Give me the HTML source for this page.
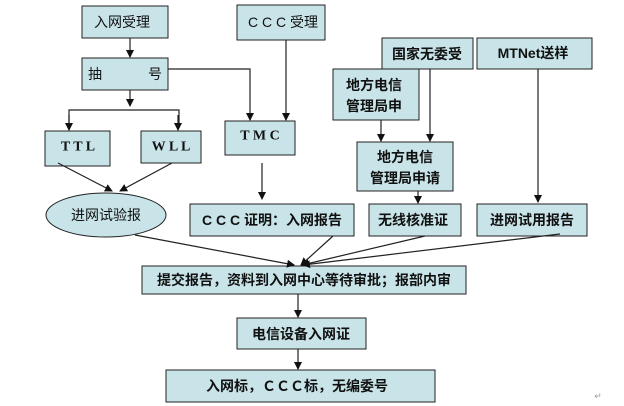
<!DOCTYPE html>
<html><head><meta charset="utf-8"><style>
body{margin:0;background:#fff}
svg{display:block}
text{font-family:"Liberation Sans","Noto Sans CJK SC",sans-serif;font-size:14px;fill:#111;text-anchor:middle;dominant-baseline:central}
.b{font-weight:bold}
.r{fill:#c8e4e8;stroke:#222;stroke-width:1}
.l{stroke:#222;stroke-width:1.2;fill:none}
</style></head><body>
<svg width="624" height="406" viewBox="0 0 624 406">
<defs><marker id="a" markerWidth="8" markerHeight="8" refX="7" refY="4" orient="auto" markerUnits="userSpaceOnUse"><path d="M0,0 L8,4 L0,8 z" fill="#111"/></marker></defs>
<rect class="r" x="82" y="6" width="86" height="32"/><text x="122" y="22">入网受理</text>
<rect class="r" x="82" y="58" width="86" height="32"/><text x="95" y="74">抽</text><text x="155" y="74">号</text>
<rect class="r" x="45" y="131" width="65" height="35"/><text x="78" y="147" class="b" style="font-family:'Liberation Serif',serif" >T T L</text>
<rect class="r" x="141" y="131" width="60" height="32"/><text x="171" y="147" class="b" style="font-family:'Liberation Serif',serif">W L L</text>
<rect class="r" x="237" y="5" width="88" height="35"/><text x="283" y="22">C C C 受理</text>
<rect class="r" x="225" y="121" width="70" height="34"/><text x="260" y="136" class="b" style="font-family:'Liberation Serif',serif">T M C</text>
<ellipse class="r" cx="106" cy="215" rx="60" ry="22"/><text x="106" y="215">进网试验报</text>
<rect class="r" x="190" y="204" width="164" height="32"/><text x="272" y="220" class="b">C C C 证明：入网报告</text>
<rect class="r" x="382" y="38" width="91" height="31"/><text x="427" y="54" class="b">国家无委受</text>
<rect class="r" x="477" y="38" width="115" height="31"/><text x="533" y="53" class="b">MTNet送样</text>
<rect class="r" x="333" y="69" width="86" height="51"/><text x="374" y="85" class="b">地方电信</text><text x="374" y="106" class="b">管理局申</text>
<rect class="r" x="357" y="142" width="96" height="49"/><text x="405" y="157" class="b">地方电信</text><text x="405" y="178" class="b">管理局申请</text>
<rect class="r" x="369" y="204" width="92" height="32"/><text x="413" y="220" class="b">无线核准证</text>
<rect class="r" x="477" y="204" width="110" height="32"/><text x="532" y="220" class="b">进网试用报告</text>
<rect class="r" x="142" y="266" width="324" height="28"/><text x="304" y="280" class="b">提交报告，资料到入网中心等待审批；报部内审</text>
<rect class="r" x="237" y="318" width="129" height="31"/><text x="301" y="334" class="b">电信设备入网证</text>
<rect class="r" x="166" y="370" width="269" height="32"/><text x="297" y="386" class="b">入网标，ＣＣＣ标，无编委号</text>
<line class="l" x1="130" y1="38" x2="130" y2="57" marker-end="url(#a)"/>
<line class="l" x1="130" y1="90" x2="130" y2="106" marker-end="url(#a)"/>
<polyline class="l" points="69,128 69,110 179,110 179,128" />
<line class="l" x1="69" y1="115" x2="69" y2="130" marker-end="url(#a)"/>
<line class="l" x1="178" y1="115" x2="178" y2="130" marker-end="url(#a)"/>
<polyline class="l" points="168,69 250,69 250,120" marker-end="url(#a)"/>
<line class="l" x1="286" y1="40" x2="286" y2="120" marker-end="url(#a)"/>
<line class="l" x1="262" y1="163" x2="262" y2="199" marker-end="url(#a)"/>
<line class="l" x1="58" y1="163" x2="112" y2="191" marker-end="url(#a)"/>
<line class="l" x1="172" y1="163" x2="120" y2="191" marker-end="url(#a)"/>
<line class="l" x1="381" y1="120" x2="381" y2="141" marker-end="url(#a)"/>
<line class="l" x1="430" y1="69" x2="430" y2="141" marker-end="url(#a)"/>
<line class="l" x1="418" y1="191" x2="418" y2="203" marker-end="url(#a)"/>
<line class="l" x1="538" y1="69" x2="538" y2="202" marker-end="url(#a)"/>
<line class="l" x1="135" y1="235" x2="294" y2="265" marker-end="url(#a)"/>
<line class="l" x1="333" y1="236" x2="301" y2="265" marker-end="url(#a)"/>
<line class="l" x1="425" y1="236" x2="302" y2="265" marker-end="url(#a)"/>
<line class="l" x1="560" y1="234" x2="303" y2="265" marker-end="url(#a)"/>
<line class="l" x1="298" y1="294" x2="298" y2="317" marker-end="url(#a)"/>
<line class="l" x1="298" y1="349" x2="298" y2="369" marker-end="url(#a)"/>
<text x="598" y="396" style="font-size:9px;fill:#999">↵</text>
</svg>
</body></html>
